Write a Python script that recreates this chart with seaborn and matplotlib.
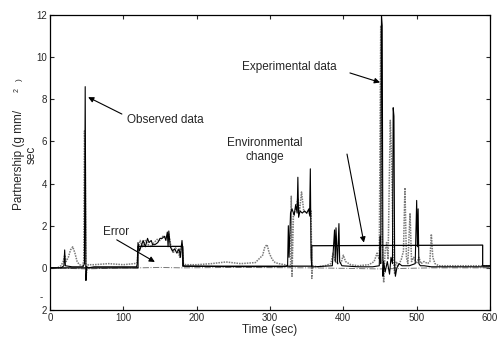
import matplotlib
matplotlib.use("Agg")
import matplotlib.pyplot as plt
import seaborn as sns
import pandas as pd

# ---- data ----
obs_t = [0, 15, 19, 20, 21, 30, 45, 47, 48, 49, 50, 52, 60, 118, 119, 120, 122, 125, 127, 130,
         133, 135, 138, 140, 143, 147, 150, 153, 156, 158, 160, 161, 162, 164, 167, 170, 173, 176,
         178, 179, 180, 181, 182, 185, 240, 300, 320, 324, 325, 326, 328, 330, 333, 335, 337, 338,
         339, 341, 344, 347, 350, 353, 354, 355, 356, 357, 360, 385, 388, 389, 390, 392, 394, 395,
         398, 420, 440, 449, 450, 451, 452, 453, 454, 455, 457, 460, 463, 465, 467, 468, 469, 470,
         471, 473, 476, 480, 490, 498, 500, 501, 502, 503, 505, 510, 520, 600]
obs_v = [0.0, 0.0, 0.1, 0.85, 0.1, 0.05, 0.05, 0.2, 8.6, -0.6, 0.05, 0.0, 0.05, 0.05, 0.2, 1.2, 0.8,
         1.1, 1.3, 1.0, 1.4, 1.2, 1.3, 1.1, 1.1, 1.2, 1.4, 1.4, 1.5, 1.3, 1.7, 1.0, 1.75, 1.0, 0.8,
         0.9, 0.7, 0.9, 0.5, 1.0, 1.3, 0.9, 0.1, 0.08, 0.06, 0.06, 0.06, 0.1, 2.0, 0.5, 2.6, 2.8,
         2.5, 3.0, 2.6, 4.3, 2.4, 2.7, 2.6, 2.7, 2.6, 2.8, 2.5, 4.7, 0.5, 0.05, 0.05, 0.1, 1.8, 0.3,
         1.9, 0.2, 2.1, 0.3, 0.1, 0.05, 0.05, 0.1, 1.5, 0.2, 12.0, 11.5, -0.4, 0.3, -0.2, 0.3, -0.3,
         0.5, 0.2, 7.6, 7.2, 0.1, -0.4, 0.0, 0.2, 0.1, 0.1, 0.2, 3.2, 1.0, 2.8, 0.2, 0.1, 0.1, 0.05,
         0.05]

exp_t = [0, 10, 15, 18, 20, 22, 25, 28, 31, 34, 37, 40, 44, 46, 47, 48, 49, 50, 52, 60, 80, 100,
         115, 119, 120, 123, 126, 130, 134, 138, 142, 146, 150, 154, 158, 162, 165, 168, 171, 174,
         177, 180, 182, 185, 200, 220, 240, 260, 280, 290, 293, 296, 299, 303, 307, 312, 320, 325,
         328, 329, 330, 332, 335, 338, 340, 343, 346, 350, 353, 355, 356, 357, 358, 365, 375, 383,
         386, 389, 392, 397, 400, 403, 410, 420, 435, 442, 446, 449, 451, 453, 455, 457, 459, 461,
         464, 466, 468, 470, 472, 475, 479, 482, 484, 486, 488, 491, 493, 496, 500, 503, 506, 510,
         515, 518, 520, 522, 525, 530, 560, 600]
exp_v = [0.0, 0.0, 0.1, 0.3, 0.6, 0.3, 0.5, 0.85, 1.0, 0.7, 0.3, 0.15, 0.1, 0.3, 6.5, 5.6, -0.5,
         -0.2, 0.15, 0.15, 0.2, 0.15, 0.2, 0.25, 0.9, 1.3, 1.0, 1.3, 1.1, 1.0, 1.2, 1.35, 1.3, 1.5,
         1.45, 1.6, 1.0, 0.7, 0.95, 0.85, 0.5, 1.1, 0.2, 0.15, 0.15, 0.2, 0.28, 0.2, 0.25, 0.6, 1.0,
         1.1, 0.7, 0.4, 0.25, 0.2, 0.15, 0.1, 0.0, 3.4, -0.4, 2.5, 2.8, 3.3, 2.6, 3.6, 2.7, 2.6, 2.7,
         2.4, 2.7, -0.5, 0.1, 0.05, 0.1, 0.2, 0.7, 0.3, 0.2, 0.25, 0.6, 0.3, 0.15, 0.1, 0.15, 0.3,
         0.7, 0.4, 11.5, 1.5, -0.7, 0.8, 1.2, 0.4, 7.0, 5.0, 0.5, -0.3, 0.3, 0.1, 0.4, 0.8, 3.8, 0.5,
         0.2, 2.6, 0.3, 0.5, 0.2, 0.5, 0.2, 0.3, 0.2, 0.3, 1.6, 0.5, 0.2, 0.1, 0.1, 0.1]

model_t = [0, 120, 120, 181, 181, 357, 357, 590, 590, 600]
model_v = [0.0, 0.0, 1.02, 1.02, 0.08, 0.08, 1.05, 1.08, 0.1, 0.1]

err_t = [0, 50, 100, 120, 150, 181, 250, 357, 450, 520, 590, 600]
err_v = [0.0, -0.05, 0.0, 0.0, 0.02, 0.0, 0.02, 0.0, -0.05, 0.0, 0.0, 0.0]

x_ticks = [0, 100, 200, 300, 400, 500, 600]
y_ticks = [-2, 0, 2, 4, 6, 8, 10, 12]
y_tick_labels = ["2", "0", "2", "4", "6", "8", "10", "12"]

# ---- figure ----
sns.set_style("ticks")
plt.rcParams["font.family"] = ["Liberation Sans", "DejaVu Sans"]

fig = plt.figure(figsize=(4.98, 3.41), dpi=100)
ax = fig.add_axes([50 / 498, 1 - 310 / 341, 440 / 498, 295 / 341])

sns.lineplot(x=exp_t, y=exp_v, ax=ax, color="#7a7a7a", linestyle=(0, (1, 0.7)), linewidth=1.1,
             estimator=None, sort=False)
sns.lineplot(x=err_t, y=err_v, ax=ax, color="#777777", linestyle="-.", linewidth=0.7,
             estimator=None, sort=False)
sns.lineplot(x=obs_t, y=obs_v, ax=ax, color="black", linewidth=0.8, estimator=None, sort=False)
sns.lineplot(x=model_t, y=model_v, ax=ax, color="black", linewidth=0.9, estimator=None, sort=False)

ax.set_xlim(0, 600)
ax.set_ylim(-2, 12)
ax.set_xticks(x_ticks)
ax.set_yticks(y_ticks)
ax.set_yticklabels(y_tick_labels)
ax.tick_params(direction="in", top=True, right=True, length=3, width=0.8, labelsize=7, pad=2)
for s in ax.spines.values():
    s.set_linewidth(0.9)
    s.set_color("black")

ax.set_xlabel("Time (sec)", fontsize=8.5, labelpad=1)
ax.set_ylabel("")
fig.text(19 / 498, 1 - 160 / 341, "Partnership (g mm/", rotation=90, fontsize=8.5,
         ha="center", va="center")
fig.text(17 / 498, 1 - 90 / 341, "2", rotation=90, fontsize=5, ha="center", va="center")
fig.text(19 / 498, 1 - 80 / 341, ")", rotation=90, fontsize=6, ha="center", va="center")
fig.text(32 / 498, 1 - 155 / 341, "sec", rotation=90, fontsize=8.5, ha="center", va="center")
fig.text(41 / 498, 1 - 297 / 341, "-", fontsize=7, ha="center", va="center")

arrow = dict(arrowstyle="-|>", color="black", lw=0.8, mutation_scale=8, shrinkA=0, shrinkB=0)
ax.text(105, 7.0, "Observed data", fontsize=8.5, ha="left", va="center")
ax.annotate("", xy=(52, 8.1), xytext=(98, 7.3), arrowprops=arrow)
ax.text(262, 9.55, "Experimental data", fontsize=8.5, ha="left", va="center")
ax.annotate("", xy=(450, 8.8), xytext=(409, 9.25), arrowprops=arrow)
ax.text(293, 5.6, "Environmental\nchange", fontsize=8.5, ha="center", va="center")
ax.annotate("", xy=(428, 1.2), xytext=(405, 5.4), arrowprops=arrow)
ax.text(72, 1.7, "Error", fontsize=8.5, ha="left", va="center")
ax.annotate("", xy=(143, 0.28), xytext=(91, 1.33), arrowprops=arrow)

fig.savefig("out.png", dpi=100)
